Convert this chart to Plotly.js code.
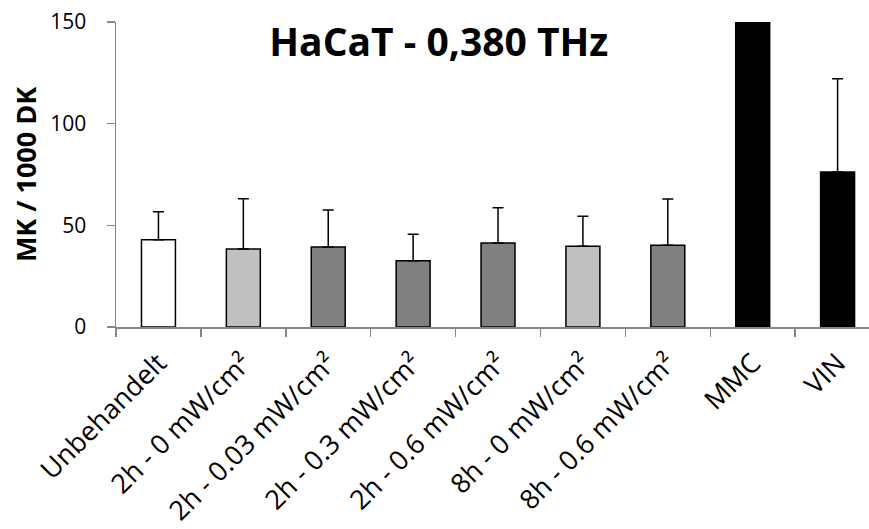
<!DOCTYPE html>
<html>
<head>
<meta charset="utf-8">
<script src="https://cdn.plot.ly/plotly-3.0.1.min.js"></script>
<style>html,body{margin:0;padding:0;background:#fff;}#chart{width:869px;height:529px;}</style>
</head>
<body>
<div id="chart"></div>
<script>
const categories = ["Unbehandelt", "2h - 0 mW/cm²", "2h - 0.03 mW/cm²", "2h - 0.3 mW/cm²", "2h - 0.6 mW/cm²", "8h - 0 mW/cm²", "8h - 0.6 mW/cm²", "MMC", "VIN"];
const values = [42.9, 38.4, 39.3, 32.6, 41.3, 39.7, 40.2, 160, 76.2];
const errorsUp = [13.8, 24.7, 18.3, 13.0, 17.4, 14.8, 22.8, 0, 45.9];
const barColors = ["#ffffff", "#c0c0c0", "#808080", "#808080", "#808080", "#c0c0c0", "#808080", "#000000", "#000000"];
const yTicks = [0, 50, 100, 150];

const axisGray = "#868686";
const trace = {
  type: "bar",
  x: categories,
  y: values,
  marker: { color: barColors, line: { color: "#000000", width: 1.5 } },
  error_y: {
    type: "data",
    symmetric: false,
    array: errorsUp,
    arrayminus: errorsUp.map(() => 0),
    color: "#000000",
    thickness: 1.5,
    width: 5.5,
    visible: true
  },
  hoverinfo: "skip"
};

const layout = {
  width: 869,
  height: 529,
  margin: { l: 116, r: 0, t: 22, b: 202, pad: 0 },
  paper_bgcolor: "#ffffff",
  plot_bgcolor: "#ffffff",
  showlegend: false,
  bargap: 0.6,
  font: { family: "Open Sans, sans-serif", color: "#000000" },
  title: {
    text: "<b>HaCaT - 0,380 THz</b>",
    font: { family: "Open Sans, sans-serif", size: 39, color: "#000000" },
    x: 0.505,
    xref: "container",
    xanchor: "center",
    y: 1 - 42 / 529,
    yref: "container",
    yanchor: "middle"
  },
  xaxis: {
    type: "category",
    range: [-0.5, 8.37],
    tickangle: -45,
    tickson: "boundaries",
    ticks: "outside",
    ticklen: 8,
    tickwidth: 1.5,
    tickcolor: axisGray,
    showline: true,
    linecolor: axisGray,
    linewidth: 1.5,
    showgrid: false,
    zeroline: false,
    ticklabelstandoff: 8,
    tickfont: { family: "Open Sans, sans-serif", size: 27, color: "#000000" },
    automargin: false,
    fixedrange: true
  },
  yaxis: {
    range: [0, 150],
    tickvals: yTicks,
    ticktext: yTicks.map(String),
    ticks: "outside",
    ticklen: 8,
    tickwidth: 1.5,
    tickcolor: axisGray,
    showline: true,
    linecolor: axisGray,
    linewidth: 1.5,
    showgrid: false,
    zeroline: false,
    ticklabelstandoff: 16,
    tickfont: { family: "Open Sans, sans-serif", size: 21, color: "#000000" },
    title: {
      text: "<b>MK / 1000 DK</b>",
      font: { family: "Open Sans, sans-serif", size: 27, color: "#000000" },
      standoff: 6
    },
    automargin: false,
    fixedrange: true
  }
};

Plotly.newPlot("chart", [trace], layout, { displayModeBar: false, staticPlot: true });
</script>
</body>
</html>
